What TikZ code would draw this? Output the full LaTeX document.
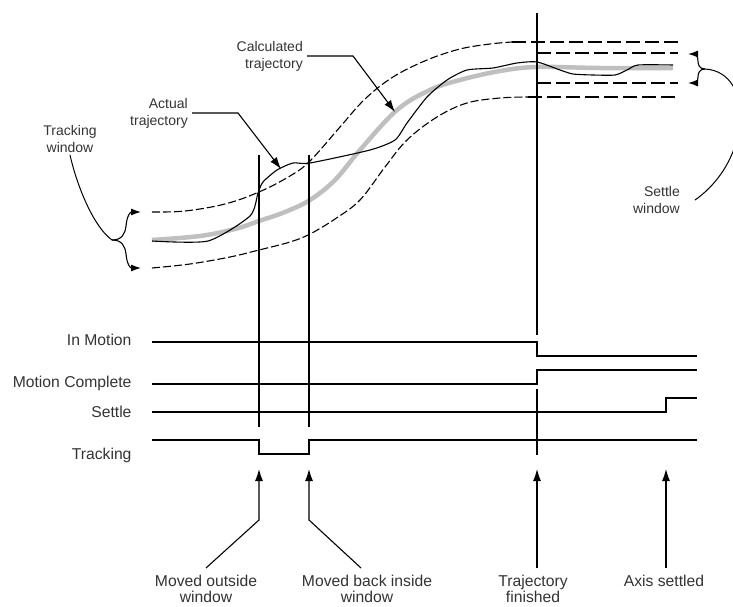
\documentclass[tikz,border=0pt]{standalone}
\usepackage{fontspec}
\setmainfont{Liberation Sans}
\usetikzlibrary{arrows.meta}

\begin{document}
\begin{tikzpicture}[x=1pt, y=-1pt,
    every node/.style = {font=\fontsize{14}{17}\selectfont, text=black!80},
    big/.style = {font=\fontsize{15.7}{16.5}\selectfont},
    sig/.style = {line width=1.4pt},
    cut/.style = {line width=1.2pt},
    win/.style = {line width=1.1pt, dash pattern=on 8pt off 3pt},
    flat/.style = {line width=1.3pt, dash pattern=on 14pt off 5pt},
    ptr/.style = {line width=1.1pt, -{Latex[length=12pt,width=8pt]}},
    tip/.style = {line width=1.1pt, -{Latex[length=10pt,width=7pt]}},
    event/.style = {big, align=center, anchor=north, inner sep=0pt, outer sep=7pt}]
  \useasboundingbox (0,0) rectangle (733,607);

  \draw[line width=4.5pt, black!25] plot[smooth, tension=0.6] coordinates {(152,240) (200,236) (235,229) (259,221) (285,212) (310,200) (335,180) (360,150) (397,110) (430,90) (460,80) (500,71) (537,67) (600,68) (673,68)};

  \draw[win] plot[smooth, tension=0.6] coordinates {(152,212) (185,211) (225,204) (259,192) (290,176) (310,161) (340,127) (365,99) (393,77) (427,60) (460,49) (490,44) (512,42)};
  \draw[flat] (512,42) -- (678,42);
  \draw[flat] (537,53) -- (678,53);
  \draw[flat] (537,83) -- (678,83);
  \draw[win] plot[smooth, tension=0.6] coordinates {(152,268) (190,264) (230,257) (259,250) (290,242) (310,234) (335,219) (360,200) (385,167) (407,140) (437,117) (467,103) (500,98) (528,97)};
  \draw[flat] (528,97) -- (678,97);

  \draw[line width=1.1pt] plot[smooth, tension=0.4] coordinates {(152,241) (208,241) (250,216) (258,193) (263,182) (277,170) (293,163) (310,163) (370,150) (395,140) (407,123) (427,97) (447,80) (467,70) (493,68) (517,63) (537,62) (560,70) (573,74) (593,75) (615,75) (627,70) (638,65) (673,65)};

  \draw[cut] (259,155) -- (259,427);
  \draw[cut] (309,155) -- (309,427);
  \draw[cut] (537,13) -- (537,335);
  \draw[cut] (537,389) -- (537,455);

  \node[big, anchor=base east] (inmotion) at (135,345) {In Motion};
  \node[big, anchor=base east] (motcomp) at (135,387) {Motion Complete};
  \node[big, anchor=base east] (settle) at (135,417) {Settle};
  \node[big, anchor=base east] (tracking) at (135,459) {Tracking};

  \draw[sig] (152,342) -| (537,356) -- (697,356);
  \draw[sig] (152,384) -| (537,370) -- (697,370);
  \draw[sig] (152,412) -| (666,398) -- (697,398);
  \draw[sig] (152,440) -| (259,454) -| (309,440) -- (697,440);

  \node[align=right, anchor=east, inner sep=4pt] (calc) at (307,56) {Calculated\\trajectory};
  \node[align=right, anchor=east, inner sep=4pt] (actual) at (192,113) {Actual\\trajectory};
  \node[align=center, anchor=south, inner sep=2pt] (trackwin) at (70,155) {Tracking\\window};
  \node[align=right, anchor=east, inner xsep=15pt, inner ysep=2pt] (settlewin) at (695,200) {Settle\\window};

  \coordinate (calctip) at (395,112);
  \coordinate (acttip) at (281,169);
  \draw[ptr] (calc.east) -- ++(46,0) -- (calctip);
  \draw[ptr] (actual.east) -- ++(46,0) -- (acttip);

  \coordinate (tb) at (112,240);
  \draw[tip] (tb) .. controls (122,240) and (125,234) .. (126,226) .. controls (127,216) and (130,212) .. (141,212);
  \draw[tip] (tb) .. controls (122,240) and (125,246) .. (126,254) .. controls (127,264) and (130,268) .. (141,268);
  \draw[line width=1pt] (trackwin.south) .. controls (78,190) and (95,228) .. (tb);

  \coordinate (sb) at (705,69);
  \draw[tip] (sb) .. controls (699,69) and (698,64) .. (698,61) .. controls (698,56) and (695,54) .. (688,54);
  \draw[tip] (sb) .. controls (699,69) and (698,74) .. (698,77) .. controls (698,82) and (695,83) .. (688,83);
  \draw[line width=1pt] (sb) .. controls (755,72) and (752,160) .. (settlewin.east);

  \node[event] (outside) at (206,568) {Moved outside\\window};
  \node[event] (backin) at (367,568) {Moved back inside\\window};
  \node[event] (trajfin) at (533,568) {Trajectory\\finished};
  \node[event] (axisset) at (664,568) {Axis settled};

  \coordinate (outtip) at (259,469);
  \coordinate (outbend) at (259,520);
  \coordinate (backtip) at (309,469);
  \coordinate (backbend) at (309,520);
  \coordinate (fintip) at (537,469);
  \coordinate (settip) at (666,469);
  \draw[ptr] (outside.north) -- (outbend) -- (outtip);
  \draw[ptr] ([xshift=-6pt]backin.north) -- (backbend) -- (backtip);
  \draw[ptr] (trajfin.north -| fintip) -- (fintip);
  \draw[ptr] (axisset.north -| settip) -- (settip);
\end{tikzpicture}
\end{document}
